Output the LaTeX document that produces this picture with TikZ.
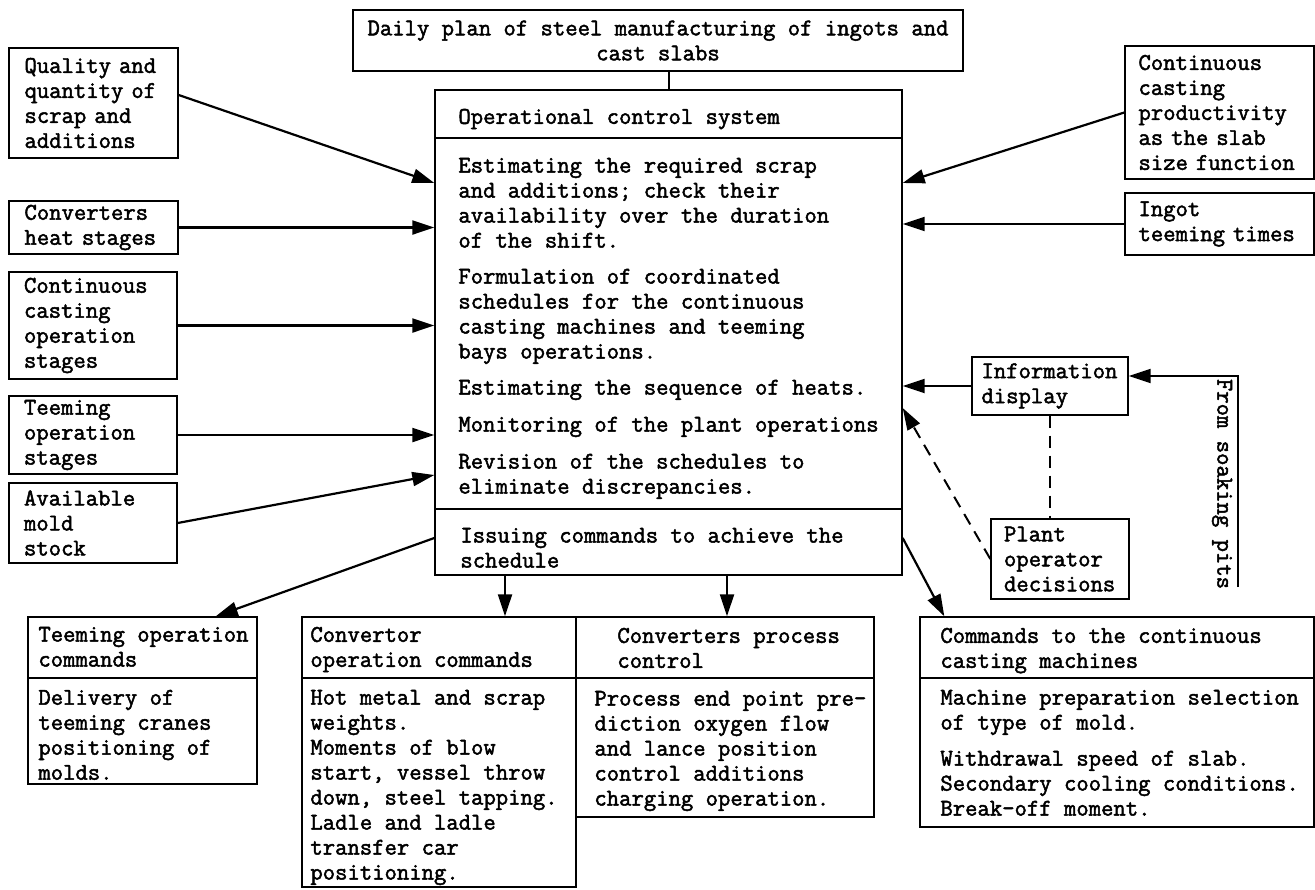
\documentclass[tikz,border=0pt]{standalone}
\usepackage{fontspec}
\newfontfamily\typewriter{Latin Modern Mono}[FakeBold=2]
\usetikzlibrary{arrows.meta}
\tikzset{
  box/.style={draw, line width=0.7pt, align=left, inner xsep=2pt, inner ysep=0pt},
  frame/.style={draw, line width=0.7pt, inner sep=0pt},
  txt/.style={align=left, inner sep=0pt, anchor=north west},
  rule/.style={line width=0.7pt},
  arr/.style={line width=1.1pt, -{Triangle[length=11pt,width=7pt]}},
  dashline/.style={line width=1pt, dash pattern=on 6pt off 4pt},
}
\begin{document}
\begin{tikzpicture}[x=0.5pt, y=-0.5pt, font=\typewriter\fontsize{12}{12.5}\selectfont]
  \useasboundingbox (0,0) rectangle (1315,889);

  \node[box, align=center, minimum width=305pt, minimum height=30.5pt] (plan) at (658,40.5)
    {Daily plan of steel manufacturing of ingots and\\cast slabs};

  \node[frame, minimum width=233.5pt, minimum height=242.5pt] (main) at (668.5,332.5) {};
  \draw[rule] (main.west |- 0,138) -- (main.east |- 0,138);
  \draw[rule] (main.west |- 0,509) -- (main.east |- 0,509);
  \node[txt] (ocs) at (458,108.5) {Operational control system};
  \node[txt] (tasks) at (458,157.5) {Estimating the required scrap\\and additions; check their\\availability over the duration\\of the shift.\\[5.5pt]
    Formulation of coordinated\\schedules for the continuous\\casting machines and teeming\\bays operations.\\[5.5pt]
    Estimating the sequence of heats.\\[6pt]
    Monitoring of the plant operations\\[6pt]
    Revision of the schedules to\\eliminate discrepancies.};
  \node[txt] (issue) at (460,527.5) {Issuing commands to achieve the\\schedule};
  \draw[rule, line width=1pt] (plan.south -| main.north) -- (main.north);

  \node[box, text width=69pt, minimum width=84.5pt, minimum height=55pt] (qual) at (93.5,103)
    {Quality and\\quantity of\\scrap and\\additions};
  \node[box, text width=69pt, minimum width=84.5pt, minimum height=26.5pt] (heat) at (93.5,227.5)
    {Converters\\heat stages};
  \node[box, text width=69pt, minimum width=84pt, minimum height=53.5pt] (ccops) at (93,325.5)
    {Continuous\\casting\\operation\\stages};
  \node[box, text width=69pt, minimum width=84pt, minimum height=39pt] (teemst) at (93,435)
    {Teeming\\operation\\stages};
  \node[box, text width=69pt, minimum width=84pt, minimum height=40pt] (mold) at (93,523)
    {Available\\mold\\stock};

  \node[box, text width=81pt, minimum width=94.5pt, minimum height=66.5pt] (ccprod) at (1219.5,112.5)
    {Continuous\\casting\\productivity\\as the slab\\size function};
  \node[box, text width=81pt, minimum width=94.5pt, minimum height=31pt] (ingot) at (1219.5,224)
    {Ingot\\teeming times};
  \node[box, text width=68.5pt, minimum width=78pt, minimum height=29pt] (info) at (1050,386)
    {Information\\display};
  \node[box, text width=56pt, minimum width=69pt, minimum height=40pt] (plant) at (1060,559)
    {Plant\\operator\\decisions};

  \draw[arr] ([yshift=4pt]qual.east) -- (main.west |- 0,183);
  \draw[arr] (heat.east) -- (heat.east -| main.west);
  \draw[arr] (ccops.east) -- (ccops.east -| main.west);
  \draw[arr] (teemst.east) -- (teemst.east -| main.west);
  \draw[arr] (mold.east) -- (main.west |- 0,475);
  \draw[arr] (ccprod.west) -- (main.east |- 0,183);
  \draw[arr] (ingot.west) -- (ingot.west -| main.east);
  \draw[arr] (info.west) -- (info.west -| main.east);
  \draw[arr, dashline] (plant.west) -- (main.east |- 0,408);
  \draw[dashline] (info.south) -- (info.south |- plant.north);

  \coordinate (pits) at (1238,587);
  \draw[arr] (pits) |- ([yshift=5pt]info.east);
  \node[rotate=-90] (pitstext) at (1222,484) {From soaking pits};

  \node[frame, minimum width=114.5pt, minimum height=83.5pt] (tcmd) at (142.5,700.5) {};
  \node[frame, minimum width=137pt, minimum height=135pt] (ccmd) at (439,752) {};
  \node[frame, minimum width=149pt, minimum height=100pt] (ppc) at (725,717) {};
  \node[frame, minimum width=197pt, minimum height=105pt] (castc) at (1117,722) {};
  \foreach \b in {tcmd,ccmd,ppc,castc}
    \draw[rule] (\b.west |- 0,678) -- (\b.east |- 0,678);

  \node[txt] (tcmdhead) at (38,626.5) {Teeming operation\\commands};
  \node[txt] (tcmdbody) at (38,689.5) {Delivery of\\teeming cranes\\positioning of\\molds.};
  \node[txt] (ccmdhead) at (310,626.5) {Convertor\\operation commands};
  \node[txt] (ccmdbody) at (310,689.5) {Hot metal and scrap\\weights.\\Moments of blow\\start, vessel throw\\down, steel tapping.\\Ladle and ladle\\transfer car\\positioning.};
  \node[txt] (ppchead) at (617,627.5) {Converters process\\control};
  \node[txt] (ppcbody) at (594,690.5) {Process end point pre-\\diction oxygen flow\\and lance position\\control additions\\charging operation.};
  \node[txt] (castchead) at (940,627.5) {Commands to the continuous\\casting machines};
  \node[txt] (castcbody) at (940,689.5) {Machine preparation selection\\of type of mold.\\[5.5pt]
    Withdrawal speed of slab.\\Secondary cooling conditions.\\Break-off moment.};

  \draw[arr] (main.west |- 0,538) -- ([xshift=-21pt]tcmd.north east);
  \draw[arr] (main.south -| 505,0) -- (ccmd.north -| 505,0);
  \draw[arr] (main.south -| 727,0) -- (ppc.north -| 727,0);
  \draw[arr] (main.east |- 0,538) -- ([xshift=12.5pt]castc.north west);
\end{tikzpicture}
\end{document}
